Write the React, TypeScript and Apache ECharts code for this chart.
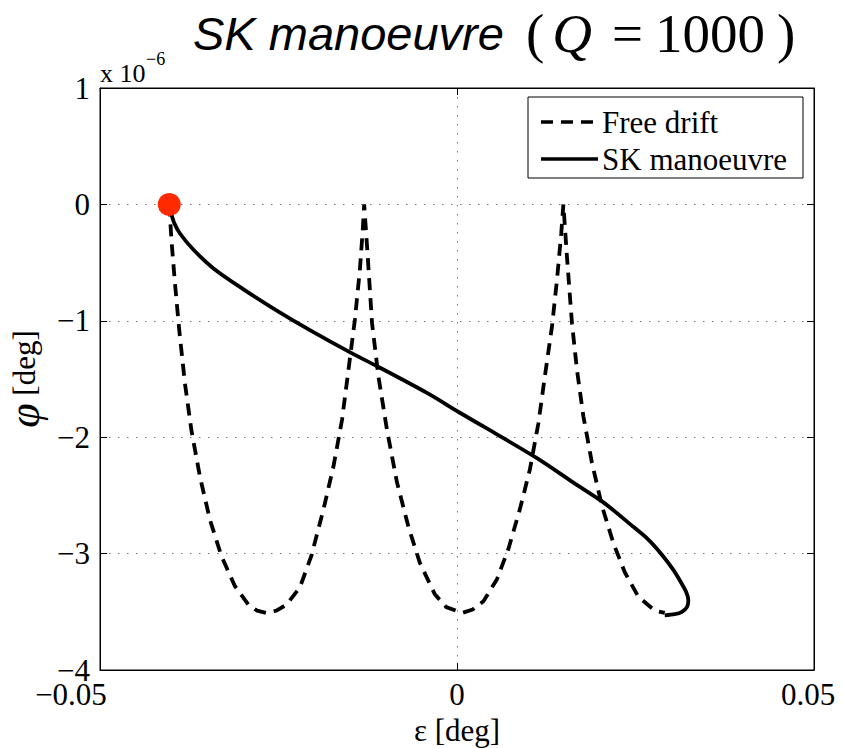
import React, { useEffect, useRef } from "react";
import * as echarts from "echarts";

// Free drift trajectory: epsilon [deg], phi [x 1e-6 deg]
const freeDriftEps = [
  -0.0403, -0.0400, -0.0395, -0.0389, -0.0381, -0.0372, -0.0360, -0.0346, -0.0330, -0.0311, -0.0292, -0.0280, -0.0267, -0.0253, -0.0239, -0.0220, -0.0204, -0.0187, -0.0173, -0.0161, -0.0152, -0.0143, -0.0136, -0.0132, -0.0130,
  -0.0125, -0.0119, -0.0110, -0.0098, -0.0084, -0.0068, -0.0052, -0.0031, -0.0015, 0.0007, 0.0022, 0.0037, 0.0056, 0.0072, 0.0088, 0.0102, 0.0114, 0.0123, 0.0133, 0.0140, 0.0146, 0.0149,
  0.0154, 0.0161, 0.0168, 0.0177, 0.0189, 0.0203, 0.0219, 0.0235, 0.0254, 0.0277, 0.0291,
];
const freeDriftPhi = [
  0, -0.30, -0.68, -1.08, -1.54, -1.94, -2.34, -2.71, -3.02, -3.28, -3.44, -3.49, -3.51, -3.49, -3.44, -3.29, -3.02, -2.62, -2.25, -1.85, -1.42, -0.99, -0.56, -0.22, 0,
  -0.45, -1.02, -1.48, -1.94, -2.39, -2.77, -3.08, -3.35, -3.46, -3.51, -3.48, -3.41, -3.22, -2.96, -2.62, -2.28, -1.88, -1.48, -1.05, -0.65, -0.25, 0,
  -0.45, -1.02, -1.42, -1.82, -2.22, -2.59, -2.91, -3.16, -3.37, -3.49, -3.51,
];

// SK manoeuvre trajectory
const skEps = [
  -0.0403, -0.0401, -0.0396, -0.0388, -0.0369, -0.0341, -0.0299, -0.0253, -0.0206, -0.0147, -0.0112, -0.0042, 0.0004, 0.0046, 0.0112, 0.0163, 0.0205, 0.0247, 0.0268, 0.0287, 0.0303, 0.0313, 0.0321, 0.0324, 0.0322, 0.0315, 0.0305, 0.0291,
];
const skPhi = [
  0, -0.06, -0.16, -0.25, -0.39, -0.55, -0.73, -0.91, -1.08, -1.28, -1.39, -1.62, -1.79, -1.94, -2.18, -2.39, -2.56, -2.77, -2.88, -3.01, -3.14, -3.24, -3.33, -3.40, -3.46, -3.50, -3.52, -3.53,
];

const startPoint = [-0.0403, 0];

const seriesNames = ["Free drift", "SK manoeuvre"];

const SERIF = "'Liberation Serif', 'Times New Roman', serif";
const SANS = "'Liberation Sans', Arial, sans-serif";

const fmtNum = (v: number) => {
  const s = String(Math.abs(v));
  return (v < 0 ? "\u2212" : "") + s;
};

export default function App() {
  const ref = useRef<HTMLDivElement>(null);
  useEffect(() => {
    if (!ref.current) return;
    const chart = echarts.init(ref.current, undefined, { renderer: "svg" });
    const fd = freeDriftEps.map((x, i) => [x, freeDriftPhi[i]]);
    const sk = skEps.map((x, i) => [x, skPhi[i]]);
    const gridLine = { show: true, lineStyle: { color: "#777", type: [1.5, 7.5] as any, width: 1 } };
    const base = { color: "#000", fontWeight: "normal", lineHeight: 60 };
    const option: any = {
      animation: false,
      backgroundColor: "#fff",
      title: {
        left: 188,
        top: -2,
        text: "{a|SK manoeuvre}{s|}{m|(}{q|Q}{e|=}{n|1000}{m|)}",
        textStyle: {
          fontWeight: "normal",
          rich: {
            a: { ...base, fontFamily: SANS, fontStyle: "italic", fontSize: 47 },
            s: { width: 22 },
            m: { ...base, fontFamily: SERIF, fontSize: 55 },
            q: { ...base, fontFamily: SERIF, fontStyle: "italic", fontSize: 55, padding: [0, 8, 0, 8] },
            e: { ...base, fontFamily: SERIF, fontSize: 55, padding: [0, 12, 0, 12] },
            n: { ...base, fontFamily: SERIF, fontSize: 55, padding: [0, 12, 0, 0] },
          },
        },
      },
      grid: {
        left: 100,
        right: 29,
        top: 88,
        bottom: 78,
        show: true,
        borderColor: "#000",
        borderWidth: 1,
        outerBoundsMode: "none",
        containLabel: false,
      },
      xAxis: [
        {
          type: "value",
          min: -0.05,
          max: 0.05,
          interval: 0.05,
          axisLine: { show: true, onZero: false, lineStyle: { color: "#000", width: 1 } },
          axisTick: { show: true, inside: true, length: 7, lineStyle: { color: "#000" } },
          splitLine: gridLine,
          axisLabel: {
            margin: 9,
            formatter: (v: number) =>
              v < 0 ? "{l|" + fmtNum(v) + "}" : v > 0 ? "{r|" + fmtNum(v) + "}" : "{c|" + fmtNum(v) + "}",
            rich: {
              l: { fontFamily: SERIF, fontSize: 31, color: "#000", padding: [0, 58, 0, 0] },
              c: { fontFamily: SERIF, fontSize: 31, color: "#000" },
              r: { fontFamily: SERIF, fontSize: 31, color: "#000", padding: [0, 12, 0, 0] },
            },
          },
          name: "\u03b5 [deg]",
          nameLocation: "middle",
          nameGap: 41,
          nameTextStyle: { fontFamily: SERIF, fontSize: 31, color: "#000", verticalAlign: "top" },
        },
        {
          type: "value",
          position: "top",
          min: -0.05,
          max: 0.05,
          interval: 0.05,
          axisLine: { show: true, onZero: false, lineStyle: { color: "#000" } },
          axisTick: { show: true, inside: true, length: 7, lineStyle: { color: "#000" } },
          axisLabel: { show: false },
          splitLine: { show: false },
        },
      ],
      yAxis: [
        {
          type: "value",
          min: -4,
          max: 1,
          interval: 1,
          axisLine: { show: true, onZero: false, lineStyle: { color: "#000", width: 1 } },
          axisTick: { show: true, inside: true, length: 7, lineStyle: { color: "#000" } },
          splitLine: gridLine,
          axisLabel: {
            margin: 10,
            fontFamily: SERIF,
            fontSize: 31,
            color: "#000",
            formatter: (v: number) => fmtNum(v),
          },
          name: "{p|\u03c6}{d| [deg]}",
          nameLocation: "middle",
          nameGap: 50,
          nameTextStyle: {
            rich: {
              p: { fontFamily: SERIF, fontStyle: "italic", fontSize: 44, color: "#000" },
              d: { fontFamily: SERIF, fontSize: 31, color: "#000" },
            },
          },
        },
        {
          type: "value",
          position: "right",
          min: -4,
          max: 1,
          interval: 1,
          axisLine: { show: true, onZero: false, lineStyle: { color: "#000" } },
          axisTick: { show: true, inside: true, length: 7, lineStyle: { color: "#000" } },
          axisLabel: { show: false },
          splitLine: { show: false },
        },
      ],
      graphic: [
        {
          type: "text",
          x: 100,
          y: 86,
          style: { text: "x 10", font: "26px 'Liberation Serif'", fill: "#000", verticalAlign: "bottom" },
        },
        {
          type: "text",
          x: 146,
          y: 68,
          style: { text: "\u22126", font: "18px 'Liberation Serif'", fill: "#000", verticalAlign: "bottom" },
        },
        {
          type: "rect",
          z: 100,
          shape: { x: 528, y: 97, width: 275, height: 81 },
          style: { fill: "#fff", stroke: "#000", lineWidth: 1 },
        },
        {
          type: "line",
          z: 101,
          shape: { x1: 541, y1: 122, x2: 598, y2: 122 },
          style: { stroke: "#000", lineWidth: 3.5, lineDash: [12, 8] },
        },
        {
          type: "line",
          z: 101,
          shape: { x1: 541, y1: 159, x2: 598, y2: 159 },
          style: { stroke: "#000", lineWidth: 3.5 },
        },
        {
          type: "text",
          z: 101,
          x: 602,
          y: 122,
          style: { text: seriesNames[0], font: "31px 'Liberation Serif'", fill: "#000", verticalAlign: "middle" },
        },
        {
          type: "text",
          z: 101,
          x: 602,
          y: 159,
          style: { text: seriesNames[1], font: "31px 'Liberation Serif'", fill: "#000", verticalAlign: "middle" },
        },
      ],
      series: [
        {
          name: seriesNames[0],
          type: "line",
          data: fd,
          showSymbol: false,
          symbol: "none",
          lineStyle: { color: "#000", width: 3.8, type: [12, 8] },
          itemStyle: { color: "#000" },
          z: 2,
        },
        {
          name: seriesNames[1],
          type: "line",
          data: sk,
          showSymbol: false,
          symbol: "none",
          smooth: 0.3,
          lineStyle: { color: "#000", width: 3.8 },
          itemStyle: { color: "#000" },
          z: 3,
        },
        {
          name: "start",
          type: "scatter",
          data: [startPoint],
          symbol: "circle",
          symbolSize: 23,
          itemStyle: { color: "#ff2a00", opacity: 1 },
          z: 4,
        },
      ],
    };
    chart.setOption(option);
    return () => chart.dispose();
  }, []);
  return (
    <div
      ref={ref}
      style={{ position: "fixed", left: 0, top: 0, width: 843, height: 748, background: "#fff" }}
    />
  );
}
